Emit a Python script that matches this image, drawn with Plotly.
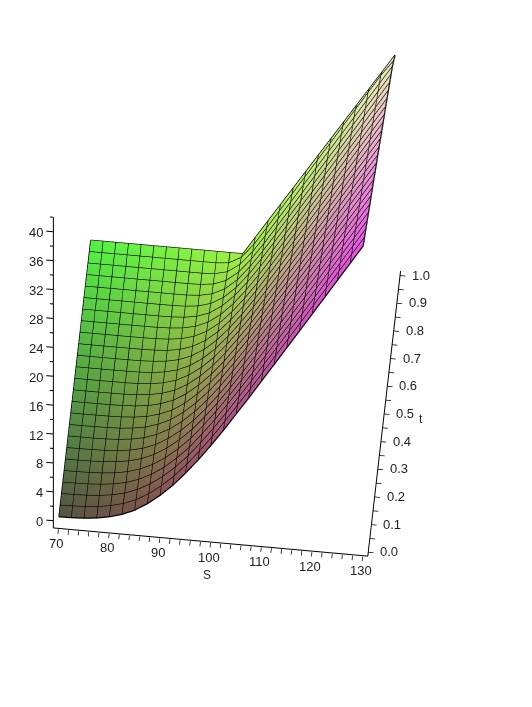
import plotly.graph_objects as go

S_values = [70,72.5,75,77.5,80,82.5,85,87.5,90,92.5,95,97.5,100,102.5,105,107.5,110,112.5,115,117.5,120,122.5,125,127.5,130]
t_values = [0,.0417,.0833,.125,.1667,.2083,.25,.2917,.3333,.375,.4167,.4583,.5,.5417,.5833,.625,.6667,.7083,.75,.7917,.8333,.875,.9167,.9583,1]

v00 = [.03,.07,.16,.34,.67,1.17,1.91,2.97,4.29,5.84,7.67,9.67,11.82,14.10,16.52,18.90,21.39,23.85,26.33,28.81,31.31,33.81,36.31,38.81,41.31]
v01 = [.02,.06,.13,.29,.58,1.03,1.72,2.71,3.97,5.49,7.26,9.26,11.40,13.68,16.07,18.46,20.94,23.40,25.88,28.36,30.86,33.36,35.86,38.36,40.86]
v02 = [.02,.04,.10,.23,.48,.88,1.54,2.46,3.66,5.13,6.85,8.85,10.98,13.26,15.63,18.01,20.49,22.94,25.43,27.92,30.42,32.92,35.42,37.92,40.42]
v03 = [.01,.03,.07,.18,.39,.74,1.35,2.20,3.34,4.78,6.44,8.44,10.56,12.84,15.18,17.57,20.04,22.49,24.98,27.47,29.97,32.47,34.97,37.47,39.97]
v04 = [.01,.02,.06,.15,.33,.64,1.18,1.97,3.07,4.45,6.07,8.02,10.12,12.39,14.73,17.13,19.59,22.03,24.53,27.02,29.52,32.02,34.52,37.02,39.52]
v05 = [0,.01,.04,.11,.26,.54,1.01,1.75,2.79,4.12,5.70,7.61,9.67,11.93,14.29,16.68,19.13,21.58,24.07,26.56,29.06,31.56,34.06,36.56,39.06]
v06 = [0,.01,.03,.08,.20,.44,.84,1.52,2.52,3.79,5.33,7.19,9.23,11.48,13.84,16.24,18.68,21.12,23.62,26.11,28.61,31.11,33.61,36.11,38.61]
v07 = [0,.01,.02,.06,.16,.36,.71,1.33,2.23,3.45,4.96,6.77,8.79,11.03,13.36,15.77,18.23,20.67,23.16,25.65,28.15,30.65,33.15,35.65,38.15]
v08 = [0,0,.02,.05,.12,.29,.59,1.14,1.95,3.12,4.60,6.35,8.35,10.58,12.88,15.30,17.77,20.22,22.70,25.19,27.69,30.19,32.69,35.19,37.69]
v09 = [0,0,.01,.03,.08,.21,.46,.95,1.66,2.78,4.23,5.93,7.91,10.13,12.40,14.83,17.32,19.77,22.24,24.73,27.23,29.73,32.23,34.73,37.23]
v10 = [0,0,.01,.02,.06,.16,.37,.80,1.44,2.48,3.86,5.51,7.47,9.66,11.92,14.35,16.83,19.30,21.77,24.26,26.76,29.26,31.76,34.26,36.76]
v11 = [0,0,0,.02,.04,.12,.29,.64,1.22,2.18,3.49,5.09,7.03,9.18,11.45,13.88,16.34,18.82,21.29,23.79,26.29,28.79,31.29,33.79,36.29]
v12 = [0,0,0,.01,.02,.07,.20,.49,1.00,1.88,3.11,4.67,6.59,8.71,10.97,13.40,15.84,18.35,20.82,23.32,25.82,28.32,30.82,33.32,35.82]
v13 = [0,0,0,.01,.01,.05,.15,.39,.83,1.61,2.75,4.26,6.13,8.23,10.50,12.93,15.37,17.87,20.35,22.85,25.35,27.85,30.35,32.85,35.35]
v14 = [0,0,0,0,.01,.03,.11,.28,.66,1.34,2.40,3.84,5.67,7.75,10.02,12.45,14.91,17.40,19.87,22.37,24.87,27.37,29.87,32.37,34.87]
v15 = [0,0,0,0,0,.01,.06,.18,.49,1.07,2.04,3.43,5.21,7.27,9.55,11.98,14.44,16.92,19.40,21.90,24.40,26.90,29.40,31.90,34.40]
v16 = [0,0,0,0,0,.01,.04,.14,.37,.86,1.71,3.02,4.74,6.78,9.06,11.49,13.95,16.43,18.92,21.42,23.92,26.42,28.92,31.42,33.92]
v17 = [0,0,0,0,0,0,.02,.09,.26,.64,1.38,2.60,4.27,6.30,8.57,10.99,13.46,15.94,18.44,20.94,23.44,25.94,28.44,30.94,33.44]
v18 = [0,0,0,0,0,0,0,.03,.14,.43,1.06,2.19,3.80,5.81,8.08,10.50,12.98,15.46,17.96,20.46,22.96,25.46,27.96,30.46,32.96]
v19 = [0,0,0,0,0,0,0,.01,.07,.26,.77,1.76,3.29,5.29,7.58,10.02,12.48,14.97,17.47,19.97,22.47,24.97,27.47,29.97,32.47]
v20 = [0,0,0,0,0,0,0,0,.02,.14,.51,1.34,2.79,4.76,7.06,9.51,11.98,14.48,16.98,19.48,21.98,24.48,26.98,29.48,31.98]
v21 = [0,0,0,0,0,0,0,0,0,.05,.27,.92,2.25,4.22,6.53,8.99,11.49,13.99,16.49,18.99,21.49,23.99,26.49,28.99,31.49]
v22 = [0,0,0,0,0,0,0,0,0,.01,.10,.53,1.72,3.65,6.03,8.50,11.00,13.50,16.00,18.50,21.00,23.50,26.00,28.50,31.00]
v23 = [0,0,0,0,0,0,0,0,0,0,.01,.17,1.09,3.07,5.50,8.00,10.50,13.00,15.50,18.00,20.50,23.00,25.50,28.00,30.20]
v24 = [0,0,0,0,0,0,0,0,0,0,0,0,0,2.45,4.9,7.35,9.8,12.25,14.7,17.15,19.6,22.05,24.5,26.95,29.4]
value_rows = [v00,v01,v02,v03,v04,v05,v06,v07,v08,v09,v10,v11,v12,v13,v14,v15,v16,v17,v18,v19,v20,v21,v22,v23,v24]

S_ticks = [70,72,74,76,78,80,82,84,86,88,90,92,94,96,98,100,102,104,106,108,110,112,114,116,118,120,122,124,126,128,130]
S_labels = [70,80,90,100,110,120,130]
t_ticks = [0,.05,.1,.15,.2,.25,.3,.35,.4,.45,.5,.55,.6,.65,.7,.75,.8,.85,.9,.95,1]
t_labels = [0,.1,.2,.3,.4,.5,.6,.7,.8,.9,1]
z_ticks = [0,2,4,6,8,10,12,14,16,18,20,22,24,26,28,30,32,34,36,38,40,42]
z_labels = [0,4,8,12,16,20,24,28,32,36,40]
S_range = [69, 131]
t_range = [-0.015, 1.015]
z_range = [-1, 42]
S_pad = 67.6

ns, nt = len(S_values), len(t_values)
xs, ys, zs, colors = [], [], [], []
for j, t in enumerate(t_values):
    for i, S in enumerate(S_values):
        z = value_rows[j][i]
        xs.append(S); ys.append(t); zs.append(z)
        r = 0.33 + 0.60 * (S - 70) / 60
        g = 0.33 + 0.62 * t
        b = 0.27 + 0.65 * z / 41.31
        colors.append(f"rgb({int(r*255)},{int(g*255)},{int(b*255)})")
ii, jj, kk = [], [], []
for j in range(nt - 1):
    for i in range(ns - 1):
        a = j * ns + i
        ii += [a, a]; jj += [a + 1, a + 1 + ns]; kk += [a + 1 + ns, a + ns]

lx, ly, lz = [], [], []
for j in range(nt):
    for i in range(ns):
        lx.append(S_values[i]); ly.append(t_values[j]); lz.append(value_rows[j][i])
    lx.append(None); ly.append(None); lz.append(None)
for i in range(ns):
    for j in range(nt):
        lx.append(S_values[i]); ly.append(t_values[j]); lz.append(value_rows[j][i])
    lx.append(None); ly.append(None); lz.append(None)

# axis lines and the z axis ticks, which must point along -S
ax_x = [S_range[0], S_range[1], S_range[1], None, S_range[0], S_range[0], None]
ax_y = [t_range[0], t_range[0], t_range[1], None, t_range[0], t_range[0], None]
ax_z = [z_range[0], z_range[0], z_range[0], None, z_range[0], z_range[1], None]
for v in z_ticks:
    ax_x += [S_range[0], S_pad if v in z_labels else S_pad + 0.7, None]
    ax_y += [t_range[0], t_range[0], None]
    ax_z += [v, v, None]

fig = go.Figure()
fig.add_trace(go.Mesh3d(x=xs, y=ys, z=zs, i=ii, j=jj, k=kk, vertexcolor=colors,
                        lighting=dict(ambient=1, diffuse=0, specular=0, roughness=1, fresnel=0),
                        flatshading=True, hoverinfo="skip"))
fig.add_trace(go.Scatter3d(x=lx, y=ly, z=lz, mode="lines", line=dict(color="black", width=2.5),
                           hoverinfo="skip", showlegend=False))
fig.add_trace(go.Scatter3d(x=ax_x, y=ax_y, z=ax_z, mode="lines", line=dict(color="black", width=2),
                           hoverinfo="skip", showlegend=False))

def axis(rng, vals, ticklen):
    return dict(title=dict(text=""), range=rng, tickvals=vals, ticktext=[""] * len(vals),
                ticks="outside" if ticklen else "", ticklen=ticklen, tickwidth=1.5,
                tickcolor="black", showline=False, showgrid=False, zeroline=False,
                showbackground=False, showspikes=False, autorange=False)

tick_font = dict(family="Liberation Sans", size=13, color="#222")
title_font = dict(family="Liberation Sans", size=12, color="#222")
notes = []
for v in S_labels:
    notes.append(dict(x=v, y=t_range[0], z=z_range[0], text=str(v), showarrow=False, font=tick_font,
                      xanchor="center", yanchor="middle", xshift=-2, yshift=-15))
for v in t_labels:
    notes.append(dict(x=S_range[1], y=v, z=z_range[0], text=f"{v:.1f}", showarrow=False, font=tick_font,
                      xanchor="left", yanchor="middle", xshift=10))
for v in z_labels:
    notes.append(dict(x=S_range[0], y=t_range[0], z=v, text=str(v), showarrow=False, font=tick_font,
                      xanchor="right", yanchor="middle", xshift=-8, yshift=-1))
notes.append(dict(x=100, y=t_range[0], z=z_range[0], text="S", showarrow=False, font=title_font,
                  xanchor="center", yanchor="middle", xshift=-4, yshift=-33))
notes.append(dict(x=S_range[1], y=0.5, z=z_range[0], text="t", showarrow=False, font=title_font,
                  xanchor="left", yanchor="middle", xshift=33, yshift=-5))

R = 2.5
cx, cy, cz = 0.172, -0.278, -0.156
fig.update_layout(
    width=532, height=707, margin=dict(l=0, r=0, t=0, b=0), paper_bgcolor="white", showlegend=False,
    scene=dict(
        domain=dict(x=[0, 1], y=[0, 1]),
        xaxis=axis([S_pad - 0.05, S_range[1] + 0.05], S_ticks, 5),
        yaxis=axis([t_range[0] - 0.002, t_range[1] + 0.002], t_ticks, 5),
        zaxis=axis([z_range[0] - 0.05, z_range[1] + 0.05], z_ticks, 0),
        annotations=notes,
        aspectmode="manual", aspectratio=dict(x=0.9156, y=0.9216, z=1.8764),
        camera=dict(projection=dict(type="orthographic"),
                    up=dict(x=0, y=0, z=1), center=dict(x=cx, y=cy, z=cz),
                    eye=dict(x=cx + 0.0474 * R, y=cy - 0.467 * R, z=cz + 0.883 * R)),
    ),
)
fig.write_html("out.html")
